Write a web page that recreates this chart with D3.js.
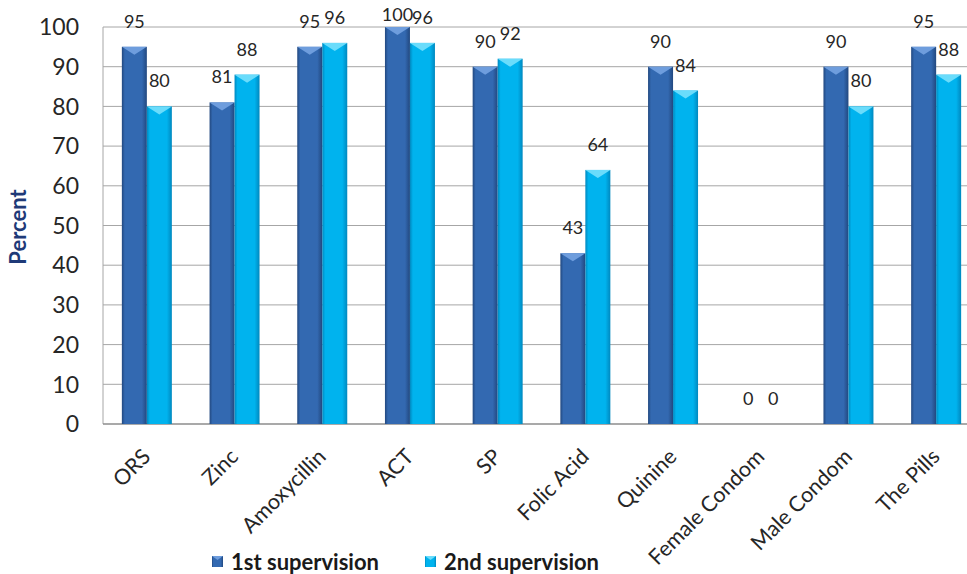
<!DOCTYPE html>
<html>
<head>
<meta charset="utf-8">
<script src="https://cdn.jsdelivr.net/npm/d3@7"></script>
<style>
  body { margin: 0; background: #fff; }
  svg { display: block; font-family: Lato, "Open Sans", sans-serif; }
</style>
</head>
<body>
<svg width="967" height="574"></svg>
<script>
// data
const categories = ["ORS", "Zinc", "Amoxycillin", "ACT", "SP", "Folic Acid", "Quinine", "Female Condom", "Male Condom", "The Pills"];
const seriesNames = ["1st supervision", "2nd supervision"];
const firstSupervision = [95, 81, 95, 100, 90, 43, 90, 0, 90, 95];
const secondSupervision = [80, 88, 96, 96, 92, 64, 84, 0, 80, 88];
const yTicks = [0, 10, 20, 30, 40, 50, 60, 70, 80, 90, 100];

const svg = d3.select("svg");
const plotLeft = 103, plotRight = 980, plotTop = 27, plotBottom = 424;

const x = d3.scaleBand()
    .domain(categories)
    .range([plotLeft, plotRight])
    .paddingInner(0.43)
    .paddingOuter(0.215);

const x1 = d3.scaleBand()
    .domain(seriesNames)
    .range([0, x.bandwidth()]);

const y = d3.scaleLinear()
    .domain([0, 100])
    .range([plotBottom, plotTop]);

const colors = [
    { main: "#3369B1", edge: "#22487F", cap: "#6E9DDD" },
    { main: "#00B3EE", edge: "#0088BF", cap: "#6ADCFB" }
];

// gradients for the bevelled bars
const defs = svg.append("defs");
colors.forEach((c, i) => {
    const g = defs.append("linearGradient")
        .attr("id", "grad" + i)
        .attr("x1", "0").attr("x2", "1").attr("y1", "0").attr("y2", "0");
    g.append("stop").attr("offset", "0%").attr("stop-color", c.edge);
    g.append("stop").attr("offset", "12%").attr("stop-color", c.main);
    g.append("stop").attr("offset", "80%").attr("stop-color", c.main);
    g.append("stop").attr("offset", "100%").attr("stop-color", c.edge);
});

// gridlines
svg.append("g")
    .selectAll("line")
    .data(yTicks.slice(1))
    .join("line")
    .attr("x1", plotLeft).attr("x2", plotRight)
    .attr("y1", d => y(d)).attr("y2", d => y(d))
    .attr("stroke", "#A6A6A6")
    .attr("stroke-width", 1);

// axis lines
svg.append("line")
    .attr("x1", plotLeft).attr("x2", plotLeft)
    .attr("y1", plotTop).attr("y2", plotBottom)
    .attr("stroke", "#A6A6A6");
svg.append("line")
    .attr("x1", plotLeft).attr("x2", plotRight)
    .attr("y1", plotBottom).attr("y2", plotBottom)
    .attr("stroke", "#8C8C8C")
    .attr("stroke-width", 1.5);

// y tick labels
svg.append("g")
    .selectAll("text")
    .data(yTicks)
    .join("text")
    .attr("x", 79)
    .attr("y", d => y(d))
    .attr("dy", "0.36em")
    .attr("text-anchor", "end")
    .style("font-size", "23px")
    .style("fill", "#262626")
    .text(d => d);

// y axis title
svg.append("text")
    .attr("transform", "translate(26,227) rotate(-90)")
    .attr("text-anchor", "middle")
    .style("font-size", "22px")
    .style("font-weight", "bold")
    .style("fill", "#1F3A78")
    .text("Percent");

const rows = categories.map((c, i) => ({
    category: c,
    values: [firstSupervision[i], secondSupervision[i]]
}));

const groups = svg.append("g")
    .selectAll("g")
    .data(rows)
    .join("g")
    .attr("transform", d => `translate(${x(d.category)},0)`);

const bars = groups.selectAll("g")
    .data(d => d.values.map((v, i) => ({ series: i, value: v })))
    .join("g")
    .filter(d => d.value > 0);

const bw = x1.bandwidth();

bars.append("rect")
    .attr("x", d => x1(seriesNames[d.series]))
    .attr("y", d => y(d.value))
    .attr("width", bw)
    .attr("height", d => plotBottom - y(d.value))
    .attr("fill", d => `url(#grad${d.series})`);

// lighter chevron cap at the top of each bar
bars.append("path")
    .attr("d", d => {
        const x0 = x1(seriesNames[d.series]);
        const yt = y(d.value);
        return `M${x0},${yt} L${x0 + bw},${yt} L${x0 + bw / 2},${yt + 8} Z`;
    })
    .attr("fill", d => colors[d.series].cap);

// value labels
groups.selectAll("text.val")
    .data(d => d.values.map((v, i) => ({ series: i, value: v })))
    .join("text")
    .attr("class", "val")
    .attr("x", d => x1(seriesNames[d.series]) + bw / 2)
    .attr("y", d => Math.max(y(d.value) - 19, 21))
    .attr("text-anchor", "middle")
    .style("font-size", "18px")
    .style("fill", "#262626")
    .text(d => d.value);

// category labels, rotated
svg.append("g")
    .selectAll("text")
    .data(categories)
    .join("text")
    .attr("transform", d => `translate(${x(d) + x.bandwidth() / 2 + 5},${458}) rotate(-45)`)
    .attr("text-anchor", "end")
    .style("font-size", "21.5px")
    .style("fill", "#262626")
    .text(d => d);

// legend
const legend = svg.append("g")
    .selectAll("g")
    .data(seriesNames)
    .join("g")
    .attr("transform", (d, i) => `translate(${[212, 425][i]},556)`);

legend.append("rect")
    .attr("width", 11).attr("height", 11)
    .attr("fill", (d, i) => `url(#grad${i})`);
legend.append("path")
    .attr("d", "M0,0 L11,0 L5.5,4 Z")
    .attr("fill", (d, i) => colors[i].cap);
legend.append("text")
    .attr("x", 19)
    .attr("y", 6)
    .attr("dy", "0.36em")
    .style("font-size", "22px")
    .style("font-weight", "bold")
    .style("fill", "#1a1a1a")
    .text(d => d);
</script>
</body>
</html>
